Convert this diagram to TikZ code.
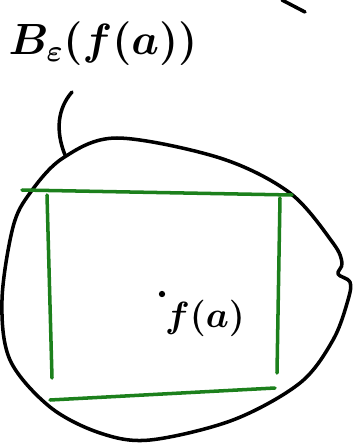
\documentclass[tikz,border=0pt]{standalone}
\usepackage{tikz}
\usetikzlibrary{calc}

\definecolor{boxgreen}{RGB}{28,128,28}

\begin{document}
\begin{tikzpicture}[
    x=0.02cm, y=-0.02cm,
    ink/.style={draw=black, line width=2pt, line cap=round, line join=round},
    boxline/.style={draw=boxgreen, line width=2pt, line cap=round},
    lbl/.style={font=\fontsize{25}{30}\selectfont\boldmath, inner sep=0pt},
    pt/.style={font=\fontsize{22}{26}\selectfont\boldmath, inner sep=0pt}
]
\useasboundingbox (0,0) rectangle (357,444);

% the ball
\draw[ink] plot[smooth cycle, tension=0.55] coordinates {
    (63,158) (117,138) (220,158) (290,193) (333,243) (342,263)
    (338,274) (350,282) (348,300) (333,340) (300,383) (233,420)
    (150,440) (100,433) (50,407) (10,360) (2,300) (13,227) (30,193)};

% labels
\node[lbl] (ball) at (103,44) {$B_\varepsilon(f(a))$};
\node[pt] (fa) at (205,318) {$f(a)$};
\fill (162,294) circle (1.8pt);

% leader from label to the ball
\coordinate (tail) at (72,92);
\coordinate (rim) at (65,155);
\draw[ink] (tail) .. controls (58,108) and (55,130) .. (rim);

% stroke at top right
\coordinate (s1) at (282,0);
\coordinate (s2) at (305,12);
\draw[ink] (s1) -- (s2);

% green box
\coordinate (tl) at (22,190);
\coordinate (tr) at (292,195);
\draw[boxline] (tl) -- (tr);
\draw[boxline] (47,195) -- (52,378);
\draw[boxline] (280,198) -- (277,373);
\draw[boxline] (50,400) -- (275,388);
\end{tikzpicture}
\end{document}
